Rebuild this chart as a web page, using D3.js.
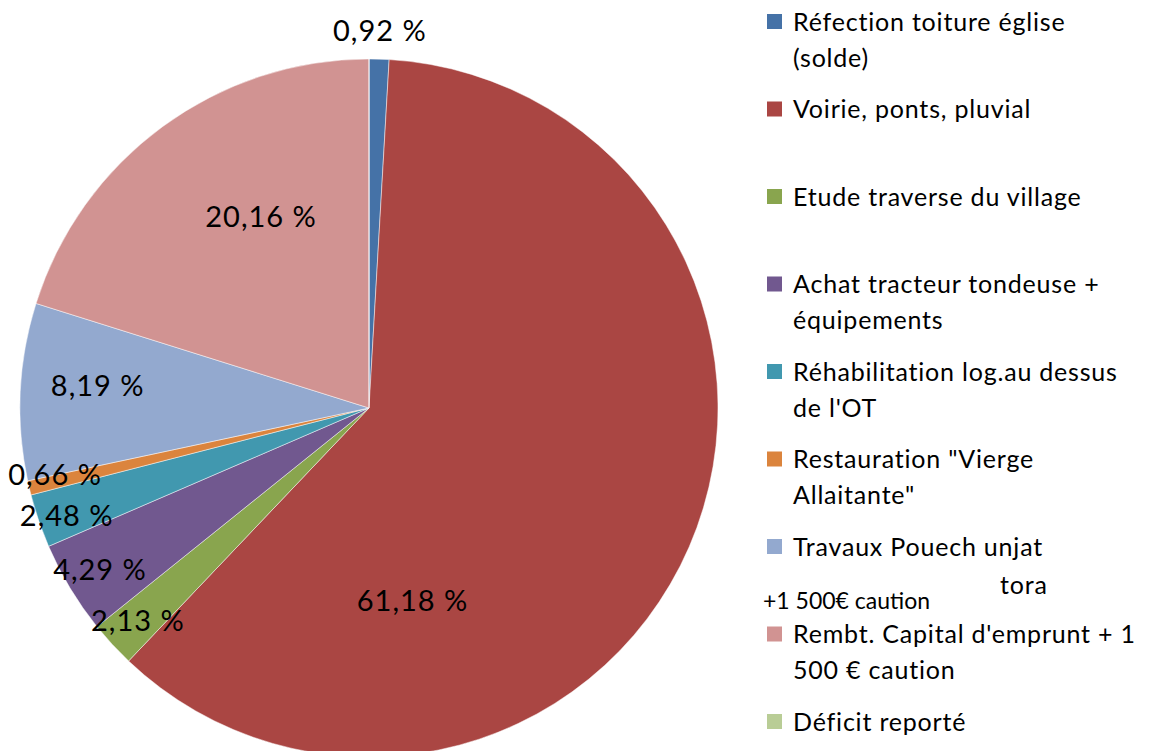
<!DOCTYPE html>
<html>
<head>
  <meta charset="utf-8">
  <title></title>
  <script src="https://cdn.jsdelivr.net/npm/d3@7"></script>
  <style>
    body { margin: 0; background: #fff; }
    svg { display: block; }
    .lbl { font-family: Lato, "Open Sans", sans-serif; font-size: 29px; letter-spacing: 1px; fill: #000; }
    .leg { font-family: Lato, "Open Sans", sans-serif; font-size: 25px; letter-spacing: 0.8px; fill: #000; }
  </style>
</head>
<body>
<div class="chart"></div>
<script>
  // data
  var categories = [
    ['Réfection toiture église', '(solde)'],
    ['Voirie, ponts, pluvial'],
    ['Etude traverse du village'],
    ['Achat tracteur tondeuse +', 'équipements'],
    ['Réhabilitation log.au dessus', "de l'OT"],
    ['Restauration "Vierge', 'Allaitante"'],
    ['Travaux Pouech unjat', ''],
    ["Rembt. Capital d'emprunt + 1", '500 € caution'],
    ['Déficit reporté']
  ];
  var values = [0.92, 61.18, 2.13, 4.29, 2.48, 0.66, 8.19, 20.16, 0];
  var labels = ['0,92 %', '61,18 %', '2,13 %', '4,29 %', '2,48 %', '0,66 %', '8,19 %', '20,16 %', ''];
  var colors = ['#4572A7', '#AA4643', '#89A54E', '#71588F', '#4198AF', '#DB843D', '#93A9CF', '#D19392', '#B9CD96'];

  var width = 1150, height = 751;
  var cx = 369, cy = 408, radius = 349;

  var svg = d3.select('.chart').append('svg')
    .attr('width', width).attr('height', height);

  var pie = d3.pie().sort(null).value(function (d) { return d; });
  var arcs = pie(values);
  var arc = d3.arc().innerRadius(0).outerRadius(radius);

  var g = svg.append('g').attr('transform', 'translate(' + cx + ',' + cy + ')');

  g.selectAll('path')
    .data(arcs).enter().append('path')
      .attr('d', arc)
      .attr('fill', function (d, i) { return colors[i]; })
      .attr('stroke', 'rgba(255,255,255,0.6)')
      .attr('stroke-width', 0.8);

  // excel "best fit" style placement
  function labelPos(d, i) {
    var a = (d.startAngle + d.endAngle) / 2;
    var r = radius * 0.9;
    if (d.value > 50) { a = a + 0.94; r = radius * 0.567; }
    else if (d.value > 15) { a = a + 0.12; r = radius * 0.63; }
    else if (d.value > 5) { a = a + 0.035; r = radius * 0.78; }
    else if (d.value < 1 && a < Math.PI / 2) { r = radius * 1.08; }
    else if (d.value < 1) { a = a + 0.02; r = radius * 0.92; }
    else if (d.value < 3 && a > 4) { a = a - 0.014; r = radius * 0.92; }
    return [Math.sin(a) * r, -Math.cos(a) * r];
  }

  g.selectAll('.lbl')
    .data(arcs.filter(function (d) { return d.value > 0; })).enter().append('text')
      .attr('class', 'lbl')
      .attr('text-anchor', 'middle')
      .attr('dy', '0.35em')
      .attr('x', function (d) { return labelPos(d)[0]; })
      .attr('y', function (d) { return labelPos(d)[1]; })
      .text(function (d) { return labels[d.index]; });

  // legend
  var legY = d3.scaleLinear().domain([0, 8]).range([22, 722]);
  var leg = svg.append('g').selectAll('.item')
    .data(categories).enter().append('g')
      .attr('transform', function (d, i) { return 'translate(0,' + legY(i) + ')'; });

  leg.append('rect')
    .attr('x', 767).attr('y', -8)
    .attr('width', 15).attr('height', 15)
    .attr('fill', function (d, i) { return colors[i]; });

  leg.each(function (d) {
    var t = d3.select(this);
    d.forEach(function (line, j) {
      t.append('text').attr('class', 'leg')
        .attr('x', 793).attr('y', j * 36).attr('dy', '0.35em')
        .text(line);
    });
  });

  // the clipped second line of "Travaux Pouech unjat" and its overlay
  svg.append('text').attr('class', 'leg')
    .attr('x', 1000).attr('y', legY(6) + 38).attr('dy', '0.35em')
    .text('tora');
  svg.append('text')
    .attr('x', 763).attr('y', legY(6) + 54).attr('dy', '0.35em')
    .style('font-family', 'Lato, sans-serif').style('font-size', '23px')
    .text('+1 500€ caution');
</script>
</body>
</html>
